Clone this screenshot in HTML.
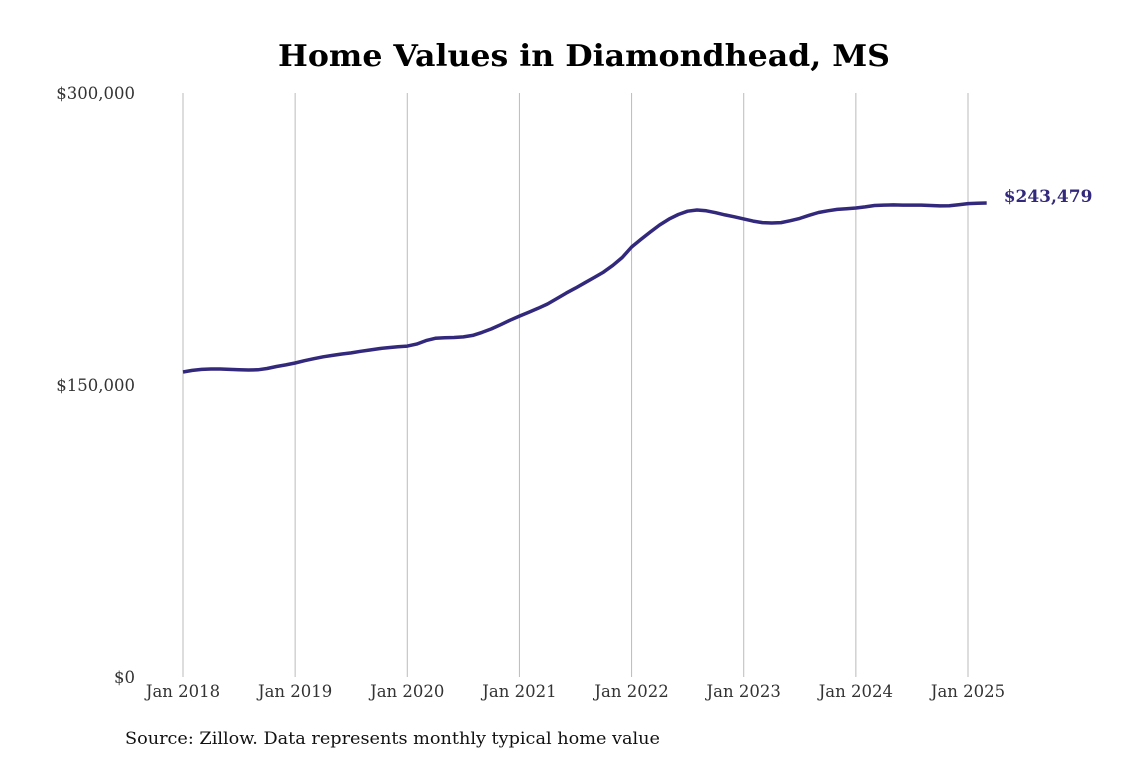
<!DOCTYPE html>
<html><head><meta charset="utf-8"><style>
body{margin:0;background:#fff;}
svg text{font-family:"DejaVu Serif","Liberation Serif",serif;}
</style></head><body>
<svg id="chart" width="1140" height="760" xmlns="http://www.w3.org/2000/svg">
<rect width="1140" height="760" fill="#fff"/>
<text x="584" y="66" text-anchor="middle" font-size="30" font-weight="bold" fill="#000" textLength="612" lengthAdjust="spacingAndGlyphs">Home Values in Diamondhead, MS</text>
<g id="grid"></g><g id="ylab"></g><g id="xlab"></g>
<path id="line" fill="none" stroke="#33297c" stroke-width="3.5" stroke-linejoin="round"/>
<text id="endlab" font-size="17" font-weight="bold" fill="#33297c"></text>
<text x="125" y="744" font-size="17" fill="#111" textLength="535" lengthAdjust="spacingAndGlyphs">Source: Zillow. Data represents monthly typical home value</text>
</svg>
<script>
const yearTicks=[2018,2019,2020,2021,2022,2023,2024,2025];
const yTicks=[0,150000,300000];
const yTickLabels=["$0","$150,000","$300,000"];
const values=[156.7,157.5,158,158.2,158.2,158,157.8,157.7,157.8,158.5,159.5,160.3,
161.3,162.5,163.5,164.5,165.2,165.9,166.5,167.3,168,168.7,169.2,169.6,
170,171,172.8,174,174.3,174.4,174.7,175.5,177,178.8,181,183.3,
185.4,187.4,189.4,191.6,194.4,197.2,199.8,202.5,205.2,208,211.5,215.5,
220.9,224.8,228.6,232.2,235.2,237.6,239.3,239.9,239.5,238.5,237.4,236.4,
235.3,234.2,233.4,233.2,233.4,234.4,235.6,237.2,238.6,239.5,240.2,240.5,
240.9,241.5,242.2,242.4,242.5,242.4,242.4,242.4,242.2,242,242.1,242.6,
243.2,243.4,243.479];
const NS="http://www.w3.org/2000/svg";
const x=m=>183+m*(785/84);
const y=v=>677-v*(584/300000);
const g=document.getElementById('grid'),yl=document.getElementById('ylab'),xl=document.getElementById('xlab');
yearTicks.forEach((yr,i)=>{
 const X=x((yr-2018)*12);
 const l=document.createElementNS(NS,'line');
 
 
 l.setAttribute('x1',X);l.setAttribute('x2',X);l.setAttribute('y1',93);l.setAttribute('y2',677);
 l.setAttribute('stroke','#bbb');l.setAttribute('stroke-width','1');g.appendChild(l);
 const t=document.createElementNS(NS,'text');
 
 
 t.setAttribute('x',X);t.setAttribute('y',697);t.setAttribute('text-anchor','middle');
 t.setAttribute('font-size','16.5');t.setAttribute('fill','#333');t.textContent='Jan '+yr;xl.appendChild(t);
});
yTicks.forEach((v,i)=>{
 const t=document.createElementNS(NS,'text');
 
 
 t.setAttribute('x',135);t.setAttribute('y',y(v)+6);t.setAttribute('text-anchor','end');
 t.setAttribute('font-size','16.5');t.setAttribute('fill','#333');t.textContent=yTickLabels[i];yl.appendChild(t);
});
document.getElementById('line').setAttribute('d',values.map((v,i)=>(i?'L':'M')+x(i).toFixed(1)+','+y(v*1000).toFixed(1)).join(''));
const last=values[values.length-1];
const el=document.getElementById('endlab');
el.setAttribute('x',x(values.length-1)+17);el.setAttribute('y',y(last*1000)-1);
el.textContent='$'+Math.round(last*1000).toLocaleString('en-US');
</script>
</body></html>
